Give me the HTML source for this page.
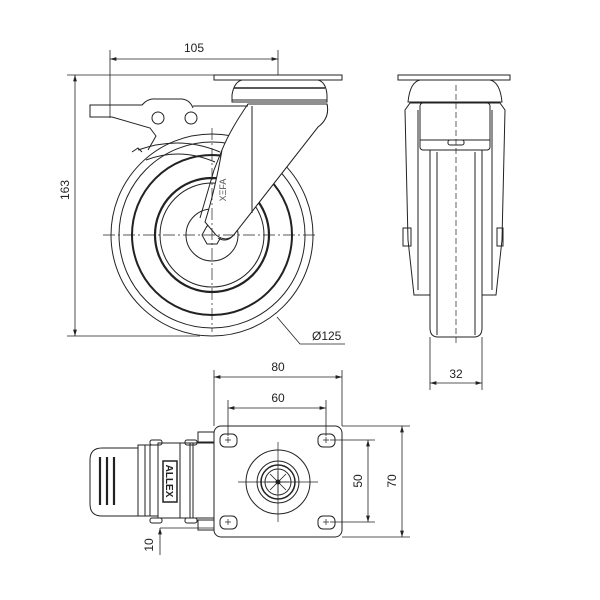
<!DOCTYPE html>
<html><head><style>html,body{margin:0;padding:0;background:#fff}svg{display:block}</style></head><body>
<svg width="600" height="600" viewBox="0 0 600 600" xmlns="http://www.w3.org/2000/svg" font-family="Liberation Sans, sans-serif" font-size="12" fill="none" stroke="#222" stroke-width="1">
<defs>
<marker id="a" viewBox="0 0 10 6" refX="10" refY="3" markerWidth="8" markerHeight="5" orient="auto-start-reverse"><path d="M0,0L10,3L0,6z" fill="#222" stroke="none"/></marker>
</defs>
<!-- SIDE VIEW -->
<g stroke-width="0.8">
<line x1="110" y1="50" x2="110" y2="118"/>
<line x1="278" y1="50" x2="278" y2="88"/>
<line x1="110" y1="59" x2="278" y2="59" marker-start="url(#a)" marker-end="url(#a)"/>
<line x1="67" y1="75" x2="214" y2="75"/>
<line x1="67" y1="336" x2="200" y2="336"/>
<line x1="75" y1="75" x2="75" y2="336" marker-start="url(#a)" marker-end="url(#a)"/>
<polyline points="277,317 300,344 345,344"/>
</g>
<text x="194" y="52" fill="#222" stroke="none" text-anchor="middle">105</text>
<text x="0" y="0" fill="#222" stroke="none" text-anchor="middle" transform="translate(69,190) rotate(-90)">163</text>
<text x="312" y="340" fill="#222" stroke="none">Ø125</text>
<!-- wheel -->
<circle cx="212" cy="235" r="101"/>
<circle cx="212" cy="235" r="93"/>
<circle cx="212" cy="235" r="80" stroke-width="2"/>
<circle cx="212" cy="235" r="57" stroke-width="2.2"/>
<circle cx="212" cy="235" r="52"/>
<circle cx="212" cy="235" r="26" fill="#fff"/>
<polygon points="222,235 217,244 207,244 202,235 207,226 217,226" fill="#fff"/>
<!-- fork -->
<path d="M248,104 L248,213 M327,104 Q330,118 318,127 L236,232 Q228,244 218,238 M248,104 L222,150 Q218,160 214,170 L200,218" fill="none"/>
<path d="M248,104 L327,104 Q330,118 318,127 L236,232 Q228,244 216,235 L205,222 Q215,190 222,150 Q230,130 248,104Z" fill="#fff"/>
<line x1="252" y1="106" x2="252" y2="213"/>
<path d="M138,150 Q180,135 220,152 M146,160 Q180,147 215,162" stroke-width="1"/>
<text x="0" y="0" fill="#555" stroke="none" font-size="9" text-anchor="middle" transform="translate(226,190) rotate(-90)">XΞFA</text>
<!-- swivel -->
<path d="M232,102 L232,95 Q234,82 242,80 L318,80 Q326,82 327,95 L327,102 Z" fill="#fff"/>
<line x1="234" y1="88" x2="325" y2="88" stroke-width="1.5"/>
<line x1="232" y1="100" x2="327" y2="100"/>
<rect x="214" y="75" width="128" height="5" fill="#fff"/>
<!-- lever -->
<path d="M90,105 L142,105 Q148,98 156,99 L182,99 Q190,100 193,108 M142,105 L90,105 L90,117 L112,117 L150,128 L156,136 L148,150 M193,106 L248,106" />
<circle cx="158" cy="118" r="6"/><circle cx="191" cy="118" r="6"/>
<path d="M132,152 L138,148 L142,152" />
<!-- centerlines -->
<g stroke-width="0.7" stroke-dasharray="12,3,2,3">
<line x1="103" y1="235" x2="318" y2="235"/>
<line x1="212" y1="128" x2="212" y2="332"/>
</g>

<!-- FRONT VIEW -->
<rect x="398" y="75" width="112" height="5"/>
<path d="M408,102 Q410,82 420,80 L490,80 Q500,82 502,102 Z"/>
<path d="M405,110 L410,103 L500,103 L505,110 L502,240 L496,295 L414,295 L408,240 Z"/>
<path d="M418,110 L418,290 M492,110 L492,290"/>
<rect x="420" y="103" width="70" height="47" rx="3"/>
<line x1="420" y1="140" x2="490" y2="140"/>
<rect x="448" y="140" width="16" height="5" rx="2"/>
<path d="M430,150 L482,150 L482,328 Q482,337 474,337 L438,337 Q430,337 430,328 Z" fill="#fff"/>
<line x1="437" y1="152" x2="437" y2="335"/><line x1="475" y1="152" x2="475" y2="335"/>
<rect x="403" y="228" width="8" height="18"/><rect x="497" y="228" width="6" height="18"/>
<line x1="456" y1="85" x2="456" y2="345" stroke-dasharray="6,3" stroke-width="0.7"/>
<line x1="430" y1="337" x2="430" y2="390" stroke-width="0.8"/>
<line x1="482" y1="337" x2="482" y2="390" stroke-width="0.8"/>
<line x1="430" y1="383" x2="482" y2="383" stroke-width="0.8" marker-start="url(#a)" marker-end="url(#a)"/>
<text x="456" y="378" fill="#222" stroke="none" text-anchor="middle">32</text>

<!-- TOP VIEW -->
<g stroke-width="0.8">
<line x1="214" y1="370" x2="214" y2="426"/><line x1="342" y1="370" x2="342" y2="426"/>
<line x1="214" y1="377" x2="342" y2="377" marker-start="url(#a)" marker-end="url(#a)"/>
<line x1="228" y1="400" x2="228" y2="436"/><line x1="326" y1="400" x2="326" y2="436"/>
<line x1="228" y1="408" x2="326" y2="408" marker-start="url(#a)" marker-end="url(#a)"/>
<line x1="330" y1="440" x2="375" y2="440"/><line x1="330" y1="522" x2="375" y2="522"/>
<line x1="368" y1="440" x2="368" y2="522" marker-start="url(#a)" marker-end="url(#a)"/>
<line x1="342" y1="426" x2="410" y2="426"/><line x1="342" y1="537" x2="410" y2="537"/>
<line x1="402" y1="426" x2="402" y2="537" marker-start="url(#a)" marker-end="url(#a)"/>
<line x1="160" y1="528" x2="214" y2="528"/>
<line x1="160" y1="540" x2="160" y2="528" marker-end="url(#a)"/>
<line x1="160" y1="540" x2="160" y2="555"/>
</g>
<text x="278" y="371" fill="#222" stroke="none" text-anchor="middle">80</text>
<text x="278" y="402" fill="#222" stroke="none" text-anchor="middle">60</text>
<text x="0" y="0" fill="#222" stroke="none" text-anchor="middle" transform="translate(362,481) rotate(-90)">50</text>
<text x="0" y="0" fill="#222" stroke="none" text-anchor="middle" transform="translate(396,481) rotate(-90)">70</text>
<text x="0" y="0" fill="#222" stroke="none" text-anchor="middle" transform="translate(153,545) rotate(-90)">10</text>
<rect x="214" y="426" width="128" height="111" rx="7"/>
<g>
<rect x="220" y="434" width="17" height="13" rx="5"/><rect x="318" y="434" width="17" height="13" rx="5"/>
<rect x="220" y="516" width="17" height="13" rx="5"/><rect x="318" y="516" width="17" height="13" rx="5"/>
<path d="M225,440h6M228,437v6M323,440h6M326,437v6M225,522h6M228,519v6M323,522h6M326,519v6" stroke-width="0.7"/>
</g>
<circle cx="278" cy="482" r="32"/>
<circle cx="278" cy="482" r="21"/><circle cx="278" cy="482" r="17" stroke-width="1.5"/><circle cx="278" cy="482" r="13"/>
<path d="M270,474L286,490M286,474L270,490M267,482H289M278,471V493" stroke-width="0.8"/>
<circle cx="278" cy="482" r="2" fill="#222"/>
<g stroke-width="0.7"><line x1="238" y1="482" x2="318" y2="482"/><line x1="278" y1="442" x2="278" y2="522"/></g>
<!-- brake assembly -->
<path d="M138,448 L102,448 Q90,448 90,460 L90,504 Q90,516 102,516 L138,516 Z"/>
<g stroke-width="2.2"><line x1="100" y1="457" x2="100" y2="505"/><line x1="107" y1="457" x2="107" y2="505"/><line x1="114" y1="457" x2="114" y2="505"/></g>
<rect x="138" y="445" width="20" height="71"/>
<line x1="145" y1="445" x2="145" y2="516"/><line x1="150" y1="445" x2="150" y2="516"/>
<rect x="158" y="443" width="35" height="75"/>
<rect x="180" y="443" width="10" height="75"/>
<rect x="193" y="443" width="21" height="75"/>
<rect x="198" y="432" width="16" height="10"/><rect x="198" y="520" width="16" height="10"/>
<rect x="150" y="440" width="12" height="5" rx="2"/><rect x="185" y="440" width="12" height="5" rx="2"/>
<rect x="150" y="518" width="12" height="5" rx="2"/><rect x="185" y="518" width="12" height="5" rx="2"/>
<rect x="163" y="461" width="14" height="41" stroke-width="1.5"/>
<text x="0" y="0" fill="#222" stroke="none" font-size="10" font-weight="bold" text-anchor="middle" transform="translate(166,481) rotate(90)">ALLEX</text>
</svg>
</body></html>
